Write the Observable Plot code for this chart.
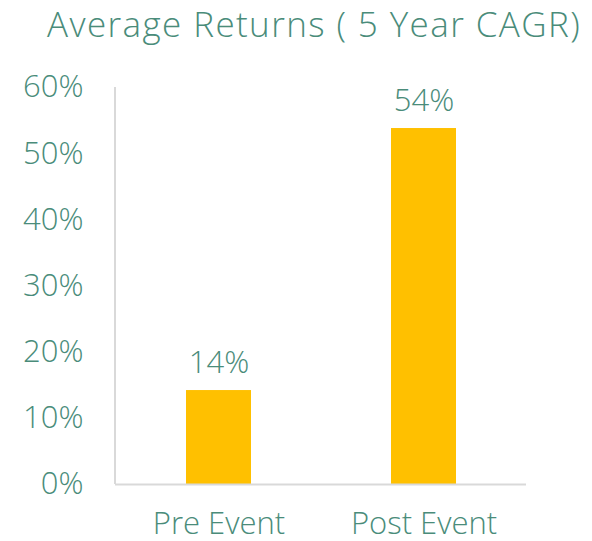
<!DOCTYPE html>
<html>
<head>
<meta charset="utf-8">
<script src="https://cdn.jsdelivr.net/npm/d3@7"></script>
<script src="https://cdn.jsdelivr.net/npm/@observablehq/plot@0.6"></script>
<style>
  body { margin: 0; background: #fff; }
  #title { height: 60px; font-family: "Open Sans", "Noto Sans", sans-serif; font-weight: 300; font-size: 35px; letter-spacing: 1.4px; color: #4A8C7A; text-align: left; padding-left: 47px; line-height: 47px; white-space: nowrap; }
</style>
</head>
<body>
<div id="title">Average Returns ( 5 Year CAGR)</div>
<div id="chart"></div>
<script>
const categories = ["Pre Event", "Post Event"];
const values = [0.142, 0.538];
const labels = ["14%", "54%"];
const yTicks = [0, 0.1, 0.2, 0.3, 0.4, 0.5, 0.6];

const data = categories.map((c, i) => ({category: c, value: values[i], label: labels[i]}));
const teal = "#4A8C7A";

const chart = Plot.plot({
  width: 592,
  height: 481,
  marginTop: 27,
  marginBottom: 57,
  marginLeft: 115,
  marginRight: 66,
  style: {fontFamily: "'Open Sans', 'Noto Sans', sans-serif", fontWeight: 300, fontSize: "31px", color: teal, background: "#fff", overflow: "visible"},
  x: {domain: categories, paddingInner: 0.684, paddingOuter: 0.342, label: null},
  y: {domain: [0, 0.6], label: null},
  marks: [
    Plot.axisY({ticks: yTicks, tickFormat: d => Math.round(d * 100) + "%", tickSize: 0, tickPadding: 32, fill: teal, fontSize: 31}),
    Plot.axisX({tickSize: 0, tickPadding: 27, fill: teal, fontSize: 31}),
    Plot.barY(data, {x: "category", y: "value", fill: "#FFC000"}),
    Plot.ruleY([0], {stroke: "#D9D9D9", strokeWidth: 2}),
    Plot.text(data, {x: "category", y: "value", text: "label", lineAnchor: "bottom", dy: -18, fill: teal, fontSize: 31})
  ]
});

const svg = d3.select(chart);
svg.append("line")
  .attr("x1", 115).attr("x2", 115)
  .attr("y1", 27).attr("y2", 424)
  .attr("stroke", "#D9D9D9").attr("stroke-width", 2);

document.getElementById("chart").appendChild(chart);
</script>
</body>
</html>
